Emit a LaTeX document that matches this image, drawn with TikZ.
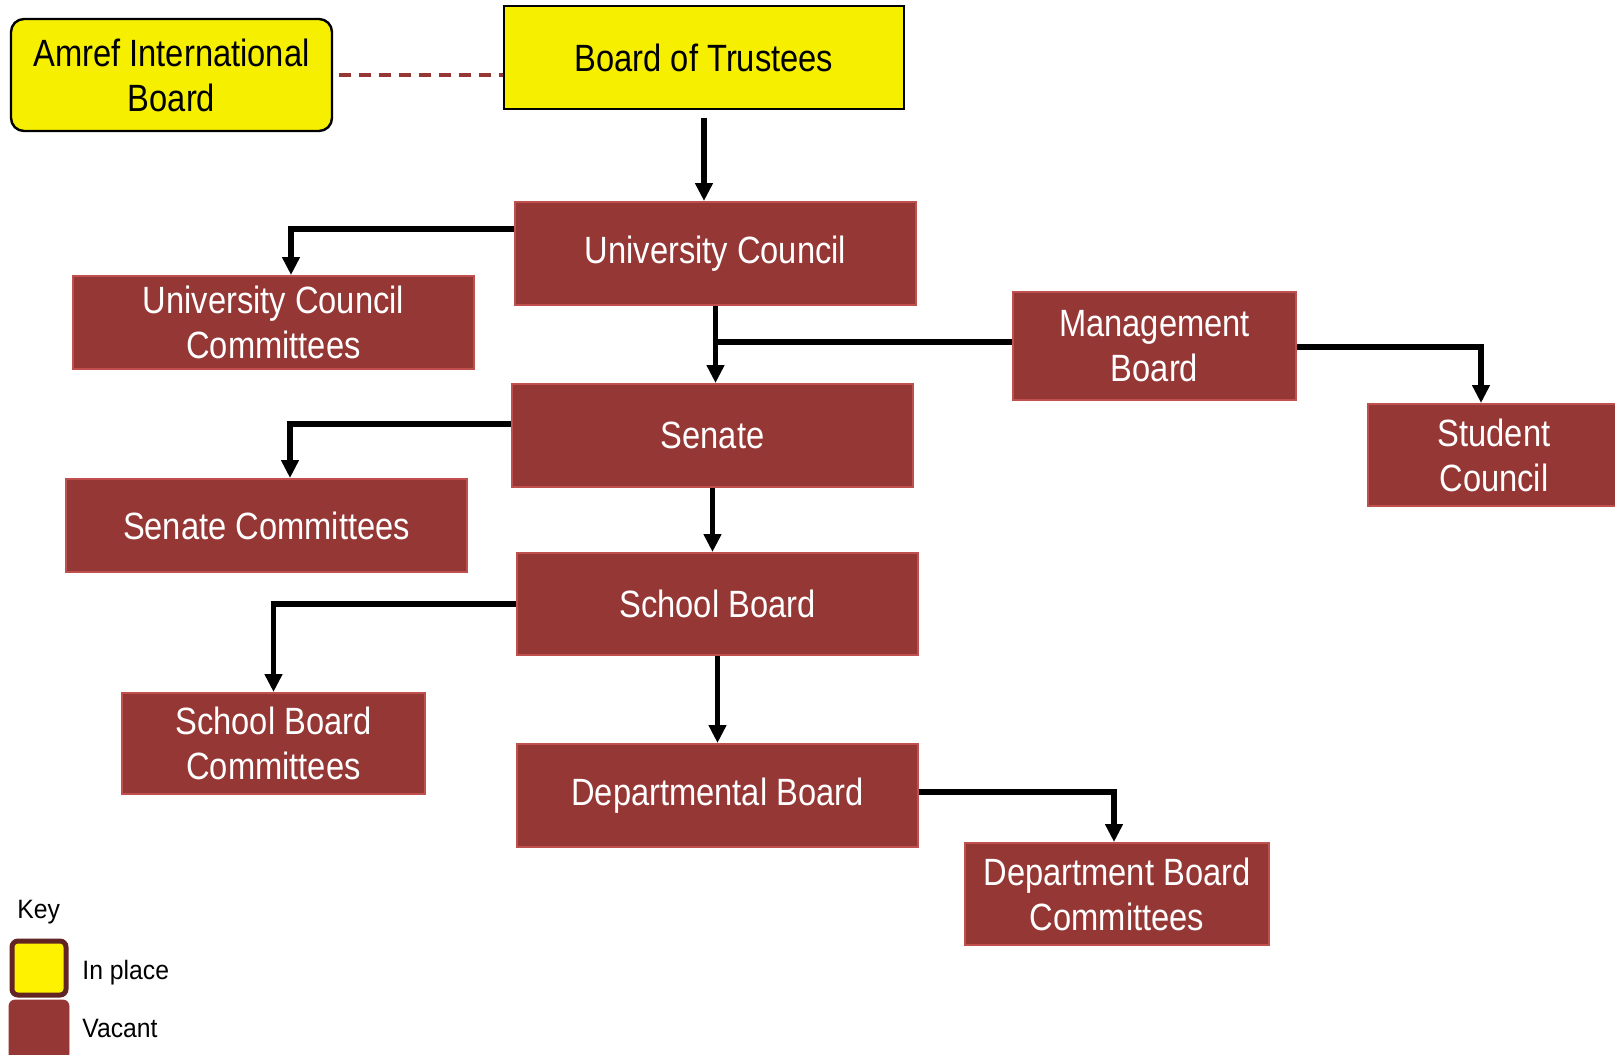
\documentclass[tikz,border=0pt]{standalone}
\usepackage{fontspec}
\usepackage{tikz}
\usetikzlibrary{arrows.meta}
\newfontfamily\boxfont{Liberation Sans}[FakeStretch=0.86]
\newfontfamily\keyfont{Liberation Sans}[FakeStretch=0.93]
\definecolor{vacantred}{HTML}{953735}
\definecolor{vacantedge}{HTML}{C0504D}
\definecolor{placeyellow}{HTML}{F6F000}
\definecolor{keybrown}{HTML}{632523}

\begin{document}
\begin{tikzpicture}[x=0.5pt, y=-0.5pt,
  inplace/.style = {draw=black, line width=1pt, fill=placeyellow, inner sep=0pt,
    align=center, font=\boxfont\fontsize{19}{22.5}\selectfont},
  vacant/.style = {draw=vacantedge, line width=1pt, fill=vacantred, text=white,
    inner sep=0pt, align=center, font=\boxfont\fontsize{19}{22.5}\selectfont},
  link/.style = {line width=2.9pt, -{Triangle[width=8.5pt, length=9pt]}},
  plain/.style = {line width=2.9pt},
  keytext/.style = {anchor=west, inner sep=0pt, font=\keyfont\fontsize{13.3}{16}\selectfont}]
\useasboundingbox (0, 0) rectangle (1615, 1054);
% boards in place
\node (amref) at (171.5, 75) [inplace, rounded corners=6.5pt, line width=1.2pt,
  minimum width=160.5pt, minimum height=56pt] {Amref International\\Board};
\node (trustees) at (704, 57.5) [inplace, minimum width=200pt, minimum height=51.5pt]
  {Board of Trustees};
% vacant bodies
\node (ucouncil) at (715.5, 253.5) [vacant, minimum width=200.5pt, minimum height=51.5pt]
  {University Council};
\node (uccomm) at (273.5, 322.5) [vacant, minimum width=200.5pt, minimum height=46.5pt]
  {University Council\\Committees};
\node (mboard) at (1154.5, 346) [vacant, minimum width=141.5pt, minimum height=54pt]
  {Management\\Board};
\node (stcouncil) at (1494, 455) [vacant, minimum width=126pt, minimum height=51pt]
  {Student\\Council};
\node (senate) at (712.5, 435.5) [vacant, minimum width=200.5pt, minimum height=51.5pt]
  {Senate};
\node (sencomm) at (266.5, 525.5) [vacant, minimum width=200.5pt, minimum height=46.5pt]
  {Senate Committees};
\node (sboard) at (717.5, 604) [vacant, minimum width=200.5pt, minimum height=51pt]
  {School Board};
\node (sbcomm) at (273.5, 743.5) [vacant, minimum width=151.5pt, minimum height=50.5pt]
  {School Board\\Committees};
\node (dboard) at (717.5, 795.5) [vacant, minimum width=200.5pt, minimum height=51.5pt]
  {Departmental Board};
\node (dbcomm) at (1117, 894) [vacant, minimum width=152pt, minimum height=51pt]
  {Department Board\\Committees};
% connectors
\draw [dashed, dash pattern=on 6pt off 4pt, line width=2pt, color=vacantred]
  ([xshift=3pt]amref.east) -- (amref.east -| trustees.west);
\draw [link] ([yshift=-4pt]trustees.south) -- (trustees.south |- ucouncil.north);
\draw [link] ([yshift=12.25pt]ucouncil.west) -| ([xshift=8.75pt]uccomm.north);
\draw [link] (ucouncil.south) -- (ucouncil.south |- senate.north);
\draw [plain] ([yshift=2pt]mboard.west) -- ([yshift=2pt]mboard.west -| ucouncil.south);
\draw [link] ([yshift=-0.5pt]mboard.east) -| ([xshift=-6.5pt]stcouncil.north);
\draw [link] ([yshift=5.75pt]senate.west) -| ([xshift=11.75pt]sencomm.north);
\draw [link] (senate.south) -- (senate.south |- sboard.north);
\draw [link] (sboard.west) -| (sbcomm.north);
\draw [link] (sboard.south) -- (sboard.south |- dboard.north);
\draw [link] ([yshift=1.75pt]dboard.east) -| ([xshift=-1.5pt]dbcomm.north);
% key
\node (keytitle) at (17, 912) [keytext] {Key};
\node (keyin) at (39, 968) [draw=keybrown, line width=2.5pt, fill=yellow,
  rounded corners=3pt, minimum size=27pt, inner sep=0pt] {};
\node (keyvac) at (39, 1030) [fill=vacantred, draw=vacantred, rounded corners=3pt,
  minimum size=30pt, inner sep=0pt] {};
\node (inplacetext) at (82, 973) [keytext] {In place};
\node (vacanttext) at (82, 1028) [keytext] {Vacant};
\end{tikzpicture}
\end{document}
